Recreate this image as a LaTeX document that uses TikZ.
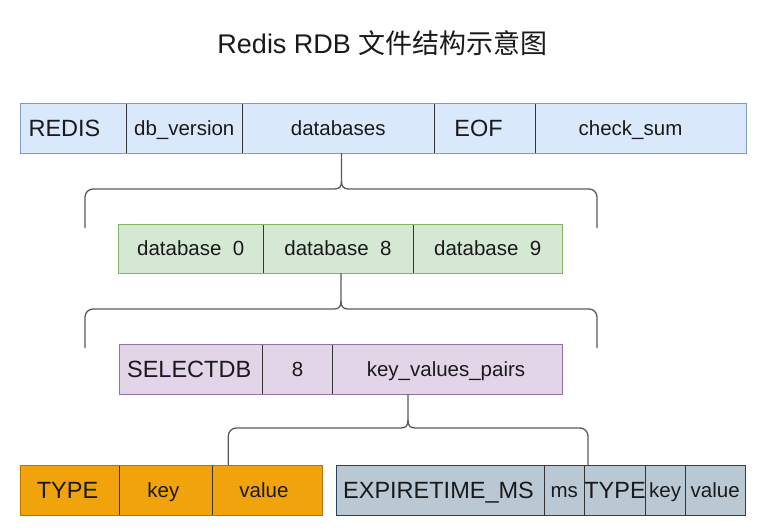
\documentclass[tikz,border=0pt]{standalone}
\usepackage{fontspec}
\setmainfont{Liberation Sans}
\newfontfamily\cjk{Noto Sans CJK SC}
\definecolor{txt}{HTML}{1A1A1A}
\definecolor{divc}{HTML}{333333}
\definecolor{bracec}{HTML}{5A5A5A}
\definecolor{rA}{HTML}{DAE8FC}\definecolor{rAs}{HTML}{7F9CC8}
\definecolor{rB}{HTML}{D5E8D4}\definecolor{rBs}{HTML}{82B366}
\definecolor{rC}{HTML}{E1D5E7}\definecolor{rCs}{HTML}{9673A6}
\definecolor{rD}{HTML}{F0A30A}\definecolor{rDs}{HTML}{BD7000}
\definecolor{rE}{HTML}{BAC8D3}\definecolor{rEs}{HTML}{23445D}
\newcommand\sh[2]{\hspace*{#1}#2}
\newcommand\hbr[6]{%
  \draw[brace] (perpendicular cs: horizontal line through={(#1.south)}, vertical line through={(#2,0)})
    -- ({#2},{#3-8}) .. controls ({#2},{#3-3}) and ({#2-1.5},{#3}) .. ({#2-7},{#3})
    [rounded corners=8pt] -- ({#4},{#3}) -- ({#4},{#6});
  \draw[brace] ({#2},{#3-8}) .. controls ({#2},{#3-3}) and ({#2+1.5},{#3}) .. ({#2+7},{#3})
    [rounded corners=8pt] -- ({#5},{#3}) -- ({#5},{#6});}
\begin{document}
\begin{tikzpicture}[x=1pt,y=-1pt,
  cell/.style={draw=divc, line width=0.9pt, anchor=north west, minimum height=50pt,
    inner sep=0pt, outer sep=0pt, text height=14.7pt, text depth=0pt, text=txt,
    font=\fontsize{20.5}{24}\selectfont},
  big/.style={font=\fontsize{23.5}{28}\selectfont, text height=16.8pt},
  brace/.style={draw=bracec, line width=1.3pt},
  border/.style={line width=1pt}]
\useasboundingbox (0,0) rectangle (765,530);

\node[anchor=base, text=txt, font=\fontsize{27}{32}\selectfont] (title) at (382.5,53.3)
  {Redis RDB {\cjk 文件结构示意图}};

% row 1
\node[cell, fill=rA, big, minimum width=106pt] (redis) at (20,103) {\sh{-17pt}{REDIS}};
\node[cell, fill=rA, minimum width=116.5pt] (dbver) at (126,103) {db\_version};
\node[cell, fill=rA, minimum width=191.5pt] (dbs) at (242.5,103) {databases};
\node[cell, fill=rA, big, minimum width=101pt] (eof) at (434,103) {\sh{-12pt}{EOF}};
\node[cell, fill=rA, minimum width=211pt] (cks) at (535,103) {\sh{-20pt}{check\_sum}};
\draw[border, draw=rAs] (redis.north west) rectangle (cks.south east);

% row 2
\node[cell, fill=rB, minimum width=144.5pt, minimum height=49pt] (db0) at (118.5,224) {database\ \ 0};
\node[cell, fill=rB, minimum width=150pt, minimum height=49pt] (db8) at (263,224) {database\ \ 8};
\node[cell, fill=rB, minimum width=149.5pt, minimum height=49pt] (db9) at (413,224) {database\ \ 9};
\draw[border, draw=rBs] (db0.north west) rectangle (db9.south east);

% row 3
\node[cell, fill=rC, big, minimum width=143.3pt] (sel) at (119,344) {\sh{-3pt}{SELECTDB}};
\node[cell, fill=rC, minimum width=70.4pt] (eight) at (262.3,344) {8};
\node[cell, fill=rC, minimum width=229.6pt] (kvp) at (332.7,344) {\sh{-3pt}{key\_values\_pairs}};
\draw[border, draw=rCs] (sel.north west) rectangle (kvp.south east);

% row 4
\node[cell, fill=rD, big, minimum width=99pt] (typa) at (20,465) {\sh{-4pt}{TYPE}};
\node[cell, fill=rD, minimum width=93.7pt] (keya) at (119,465) {\sh{-5pt}{key}};
\node[cell, fill=rD, minimum width=109.6pt] (vala) at (212.7,465) {\sh{-7pt}{value}};
\draw[border, draw=rDs] (typa.north west) rectangle (vala.south east);

\node[cell, fill=rE, big, minimum width=207.6pt] (exp) at (336.7,465) {\sh{-4pt}{EXPIRETIME\_MS}};
\node[cell, fill=rE, minimum width=40pt] (ms) at (544.3,465) {ms};
\node[cell, fill=rE, big, minimum width=60.7pt] (typb) at (584.3,465) {TYPE};
\node[cell, fill=rE, minimum width=40.3pt] (keyb) at (645,465) {key};
\node[cell, fill=rE, minimum width=59.7pt] (valb) at (685.3,465) {value};
\draw[border, draw=rEs] (exp.north west) rectangle (valb.south east);

% braces
\hbr{dbs}{341.5}{189}{85}{597}{228}
\hbr{db8}{341}{309}{85}{597}{348}
\hbr{kvp}{408}{428}{228.3}{588}{465}
\end{tikzpicture}
\end{document}
